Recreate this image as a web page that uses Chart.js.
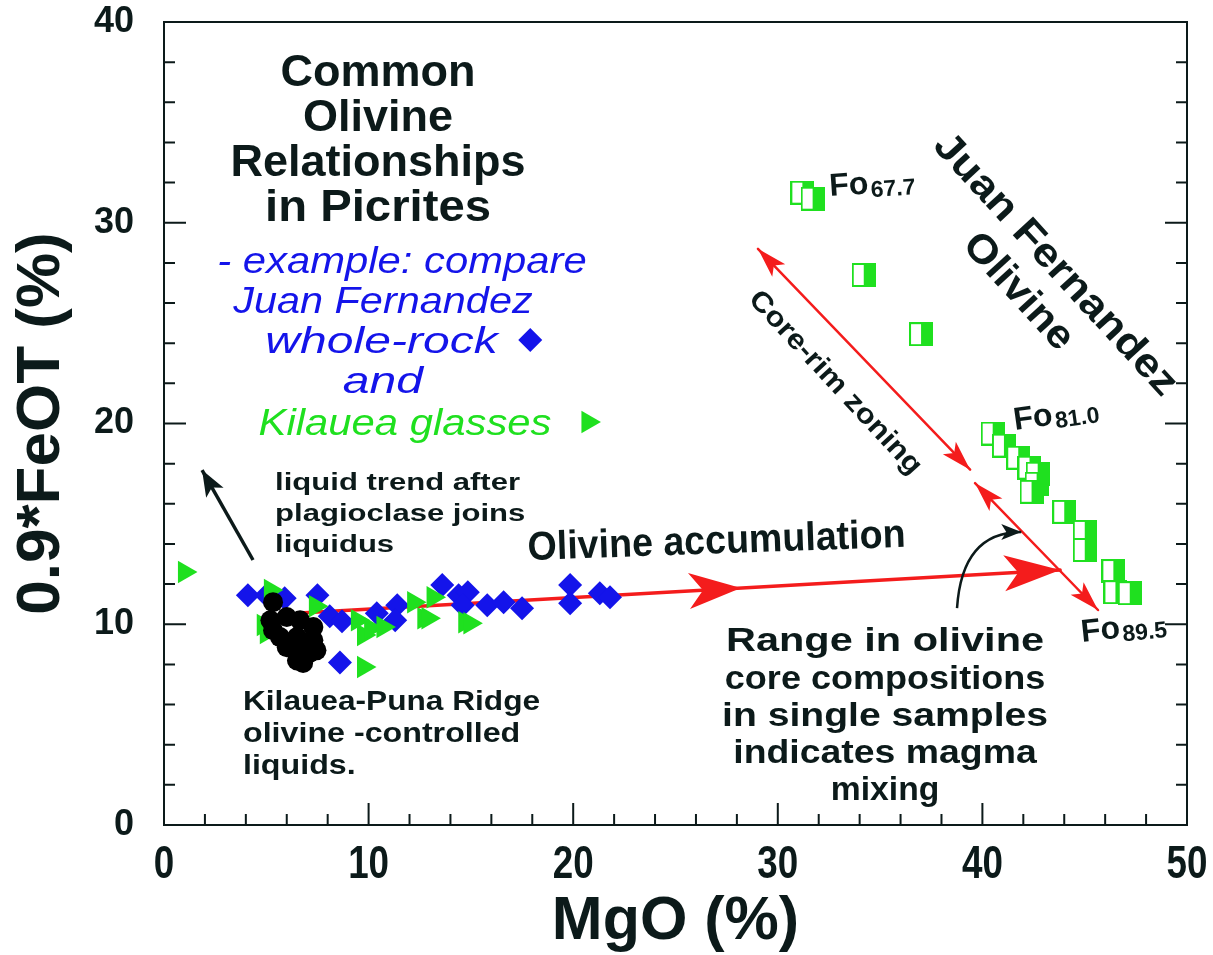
<!DOCTYPE html>
<html>
<head>
<meta charset="utf-8">
<script src="https://cdn.jsdelivr.net/npm/chart.js@4.4.1/dist/chart.umd.min.js"></script>
<style>
  html, body { margin: 0; padding: 0; background: #fff; }
  #box { width: 1213px; height: 955px; }
</style>
</head>
<body>
<div id="box"><canvas id="c" width="1213" height="955"></canvas></div>
<script>
// ---- data (MgO %, 0.9*FeOT %) ----
const wholeRockMgO = [4.1, 5.0, 5.9, 7.5, 8.1, 8.7, 8.6, 10.4, 11.4, 11.3, 13.6, 14.4, 14.85, 14.6, 15.8, 16.6, 17.5, 19.85, 19.85, 21.3, 21.8];
const wholeRockFeO = [11.45, 11.45, 11.3, 11.45, 10.4, 10.15, 8.1, 10.55, 10.95, 10.2, 11.95, 11.45, 11.6, 10.95, 10.95, 11.1, 10.8, 11.95, 11.05, 11.55, 11.35];

const glassMgO = [1.0, 5.2, 4.85, 5.0, 7.4, 9.45, 9.75, 9.75, 10.1, 10.7, 12.2, 12.7, 12.9, 13.15, 14.7, 14.95];
const glassFeO = [12.6, 11.7, 9.96, 9.56, 10.9, 10.2, 9.46, 7.87, 9.8, 9.86, 11.1, 10.3, 10.3, 11.35, 10.1, 10.05];

const punaMgO = [5.33, 5.2, 6.0, 6.65, 7.3, 5.67, 6.5, 7.3, 6.0, 6.8, 7.1, 6.5, 6.8, 7.45, 5.33];
const punaFeO = [11.1, 10.2, 10.36, 10.2, 9.86, 9.36, 9.36, 9.2, 8.86, 8.7, 8.56, 8.2, 8.07, 8.7, 9.7];

const olivineMgO = [31.2, 31.7, 34.2, 37.0, 40.5, 41.05, 41.75, 42.3, 42.7, 42.65, 42.4, 44.0, 45.0, 45.0, 46.4, 46.5, 47.2];
const olivineFeO = [31.5, 31.2, 27.4, 24.45, 19.5, 18.9, 18.3, 17.8, 17.5, 17.0, 16.6, 15.6, 14.6, 13.7, 12.65, 11.6, 11.55];

// arrows, in data units [x, y]
const accumArrow = [[6.65, 10.56], [43.8, 12.7]];
const coreRimArrow = [[29.03, 28.7], [39.4, 17.7]];
const mixArrow = [[39.64, 17.03], [45.65, 10.71]];
const plagArrow = [[4.35, 13.2], [1.86, 17.68]];
const curveArrow = [[38.76, 10.8], [39.0, 14.6], [41.9, 14.6]]; // start, control, end

const ink = '#0c1a1a';
const blue = '#1414ea';
const green = '#1fe01f';
const red = '#f41c1c';
const FONT = '"Liberation Sans", Arial, sans-serif';

function pts(xs, ys) { return xs.map((x, i) => ({ x: x, y: ys[i] })); }

// half filled square marker for the olivine analyses
function halfSquare(s) {
  const c = document.createElement('canvas');
  c.width = s; c.height = s;
  const g = c.getContext('2d');
  g.fillStyle = '#fff'; g.fillRect(0, 0, s, s);
  g.fillStyle = green; g.fillRect(s / 2, 0, s / 2, s);
  g.strokeStyle = green; g.lineWidth = 2; g.strokeRect(1, 1, s - 2, s - 2);
  return c;
}

const notes = [
  { t: 'Common', x: 10.46, y: 36.81, size: 45, sx: 1, align: 'center' },
  { t: 'Olivine', x: 10.46, y: 34.57, size: 45, sx: 1, align: 'center' },
  { t: 'Relationships', x: 10.46, y: 32.33, size: 45, sx: 1, align: 'center' },
  { t: 'in Picrites', x: 10.46, y: 30.09, size: 45, sx: 1.05, align: 'center' },
  { t: '- example: compare', x: 11.63, y: 27.5, size: 37, sx: 1.13, align: 'center', italic: true, color: blue },
  { t: 'Juan Fernandez', x: 10.7, y: 25.5, size: 37, sx: 1.12, align: 'center', italic: true, color: blue },
  { t: 'whole-rock', x: 10.63, y: 23.51, size: 37, sx: 1.3, align: 'center', italic: true, color: blue },
  { t: 'and', x: 10.7, y: 21.52, size: 37, sx: 1.3, align: 'center', italic: true, color: blue },
  { t: 'Kilauea glasses', x: 11.78, y: 19.43, size: 37, sx: 1.13, align: 'center', italic: true, color: green },
  { t: 'liquid trend after', x: 5.43, y: 16.69, size: 23, sx: 1.35 },
  { t: 'plagioclase joins', x: 5.43, y: 15.14, size: 23, sx: 1.35 },
  { t: 'liquidus', x: 5.43, y: 13.6, size: 23, sx: 1.35 },
  { t: 'Olivine accumulation', x: 17.79, y: 13.2, size: 40, sx: 0.94, rot: -2 },
  { t: 'Range in olivine', x: 35.24, y: 8.67, size: 34, sx: 1.22, align: 'center' },
  { t: 'core compositions', x: 35.24, y: 6.77, size: 34, sx: 1.06, align: 'center' },
  { t: 'in single samples', x: 35.24, y: 4.93, size: 34, sx: 1.15, align: 'center' },
  { t: 'indicates magma', x: 35.24, y: 3.09, size: 34, sx: 1.1, align: 'center' },
  { t: 'mixing', x: 35.24, y: 1.25, size: 34, sx: 0.99, align: 'center' },
  { t: 'Kilauea-Puna Ridge', x: 3.86, y: 5.73, size: 28, sx: 1.13 },
  { t: 'olivine -controlled', x: 3.86, y: 4.13, size: 28, sx: 1.15 },
  { t: 'liquids.', x: 3.86, y: 2.54, size: 28, sx: 1.15 },
  { t: 'Juan Fernandez', x: 43.55, y: 27.9, size: 40, sx: 1.12, align: 'center', base: 'middle', rot: 47.5 },
  { t: 'Olivine', x: 41.74, y: 26.55, size: 40, sx: 1.08, align: 'center', base: 'middle', rot: 47.5 },
  { t: 'Core-rim zoning', x: 32.8, y: 22.02, size: 28, sx: 1.12, align: 'center', base: 'middle', rot: 47 }
];
const foNotes = [
  { main: 'Fo', sub: '67.7', x: 32.55, y: 31.33, rot: -4 },
  { main: 'Fo', sub: '81.0', x: 41.59, y: 19.68, rot: -8 },
  { main: 'Fo', sub: '89.5', x: 44.87, y: 9.12, rot: -6 }
];

function head(ctx, x, y, ang, len, half, notch) {
  ctx.save();
  ctx.translate(x, y);
  ctx.rotate(ang);
  ctx.beginPath();
  ctx.moveTo(0, 0);
  ctx.lineTo(-len, -half);
  ctx.lineTo(-len + notch, 0);
  ctx.lineTo(-len, half);
  ctx.closePath();
  ctx.fill();
  ctx.restore();
}

const decor = {
  id: 'decor',
  beforeDatasetsDraw(chart) {
    const ctx = chart.ctx, xs = chart.scales.x, ys = chart.scales.y;
    const P = p => [xs.getPixelForValue(p[0]), ys.getPixelForValue(p[1])];
    ctx.save();
    ctx.strokeStyle = red; ctx.fillStyle = red; ctx.lineCap = 'round';
    // olivine accumulation
    let a = P(accumArrow[0]), b = P(accumArrow[1]);
    let ang = Math.atan2(b[1] - a[1], b[0] - a[0]);
    ctx.lineWidth = 3.5;
    ctx.beginPath(); ctx.moveTo(a[0], a[1]); ctx.lineTo(b[0], b[1]); ctx.stroke();
    const t = 0.58;
    head(ctx, a[0] + (b[0] - a[0]) * t, a[1] + (b[1] - a[1]) * t, ang, 52, 18, 14);
    head(ctx, b[0], b[1], ang, 56, 18, 14);
    // two double headed zoning / mixing arrows
    [coreRimArrow, mixArrow].forEach(arr => {
      const p = P(arr[0]), q = P(arr[1]);
      const g = Math.atan2(q[1] - p[1], q[0] - p[0]);
      ctx.lineWidth = 2.5;
      ctx.beginPath(); ctx.moveTo(p[0], p[1]); ctx.lineTo(q[0], q[1]); ctx.stroke();
      head(ctx, q[0], q[1], g, 30, 9, 7);
      head(ctx, p[0], p[1], g + Math.PI, 30, 9, 7);
    });
    ctx.restore();
  },
  afterDatasetsDraw(chart) {
    const ctx = chart.ctx, xs = chart.scales.x, ys = chart.scales.y;
    const area = chart.chartArea;
    const P = p => [xs.getPixelForValue(p[0]), ys.getPixelForValue(p[1])];
    ctx.save();
    // black arrows
    ctx.strokeStyle = ink; ctx.fillStyle = ink; ctx.lineWidth = 3.5;
    let a = P(plagArrow[0]), b = P(plagArrow[1]);
    ctx.beginPath(); ctx.moveTo(a[0], a[1]); ctx.lineTo(b[0], b[1]); ctx.stroke();
    head(ctx, b[0], b[1], Math.atan2(b[1] - a[1], b[0] - a[0]), 26, 10, 6);
    const c0 = P(curveArrow[0]), c1 = P(curveArrow[1]), c2 = P(curveArrow[2]);
    ctx.lineWidth = 2.5;
    ctx.beginPath(); ctx.moveTo(c0[0], c0[1]); ctx.quadraticCurveTo(c1[0], c1[1], c2[0], c2[1]); ctx.stroke();
    head(ctx, c2[0], c2[1], Math.atan2(c2[1] - c1[1], c2[0] - c1[0]), 20, 8, 5);

    // text notes
    notes.forEach(n => {
      ctx.save();
      ctx.translate(xs.getPixelForValue(n.x), ys.getPixelForValue(n.y));
      if (n.rot) ctx.rotate(n.rot * Math.PI / 180);
      ctx.scale(n.sx || 1, 1);
      ctx.font = (n.italic ? 'italic ' : 'bold ') + n.size + 'px ' + FONT;
      ctx.fillStyle = n.color || ink;
      ctx.textAlign = n.align || 'left';
      ctx.textBaseline = n.base || 'alphabetic';
      ctx.fillText(n.t, 0, 0);
      ctx.restore();
    });
    foNotes.forEach(n => {
      ctx.save();
      ctx.translate(xs.getPixelForValue(n.x), ys.getPixelForValue(n.y));
      ctx.rotate(n.rot * Math.PI / 180);
      ctx.fillStyle = ink;
      ctx.textBaseline = 'alphabetic';
      ctx.font = 'bold 32px ' + FONT;
      ctx.fillText(n.main, 0, 0);
      const w = ctx.measureText(n.main).width;
      ctx.font = 'bold 23px ' + FONT;
      ctx.fillText(n.sub, w + 2, 4);
      ctx.restore();
    });
    // legend glyphs next to the blue / green text
    ctx.fillStyle = blue;
    let g = P([17.9, 24.16]);
    Chart.helpers.drawPoint(ctx, { pointStyle: 'rectRot', radius: 12, rotation: 0, borderWidth: 0 }, g[0], g[1]);
    ctx.fillStyle = green;
    g = P([20.72, 20.07]);
    Chart.helpers.drawPoint(ctx, { pointStyle: 'triangle', radius: 13, rotation: 90, borderWidth: 0 }, g[0], g[1]);

    // x tick labels: tall condensed digits as in the original
    ctx.fillStyle = ink;
    ctx.font = 'bold 46px ' + FONT;
    ctx.textAlign = 'center';
    ctx.textBaseline = 'alphabetic';
    xs.ticks.forEach(tk => {
      if (tk.value % 10 !== 0) return;
      ctx.save();
      ctx.translate(xs.getPixelForValue(tk.value), area.bottom + 53);
      ctx.scale(0.8, 1);
      ctx.fillText(String(tk.value), 0, 0);
      ctx.restore();
    });

    // frame and inward ticks
    ctx.strokeStyle = ink; ctx.lineWidth = 2;
    ctx.strokeRect(area.left, area.top, area.right - area.left, area.bottom - area.top);
    ctx.beginPath();
    xs.ticks.forEach(tk => {
      const x = xs.getPixelForValue(tk.value);
      const len = tk.value % 10 === 0 ? 22 : 11;
      ctx.moveTo(x, area.bottom); ctx.lineTo(x, area.bottom - len);
    });
    ys.ticks.forEach(tk => {
      const y = ys.getPixelForValue(tk.value);
      const len = tk.value % 10 === 0 ? 22 : 11;
      ctx.moveTo(area.left, y); ctx.lineTo(area.left + len, y);
      ctx.moveTo(area.right, y); ctx.lineTo(area.right - len, y);
    });
    ctx.stroke();
    ctx.restore();
  }
};

new Chart(document.getElementById('c'), {
  type: 'scatter',
  data: {
    datasets: [
      { label: 'Kilauea-Puna Ridge', data: pts(punaMgO, punaFeO), pointStyle: 'circle', pointRadius: 10,
        backgroundColor: '#000', borderWidth: 0 },
      { label: 'Kilauea glasses', data: pts(glassMgO, glassFeO), pointStyle: 'triangle', rotation: 90, pointRadius: 13,
        backgroundColor: green, borderWidth: 0 },
      { label: 'Juan Fernandez whole-rock', data: pts(wholeRockMgO, wholeRockFeO), pointStyle: 'rectRot', pointRadius: 12,
        backgroundColor: blue, borderWidth: 0 },
      { label: 'Juan Fernandez olivine', data: pts(olivineMgO, olivineFeO), pointStyle: halfSquare(24), pointRadius: 12,
        backgroundColor: green, borderWidth: 0 }
    ]
  },
  options: {
    responsive: false,
    animation: false,
    devicePixelRatio: 1,
    layout: { padding: { top: 22, right: 26, left: 0, bottom: 0 } },
    plugins: { legend: { display: false }, tooltip: { enabled: false } },
    scales: {
      x: {
        type: 'linear', min: 0, max: 50,
        grid: { display: false, drawTicks: false },
        border: { display: false },
        ticks: {
          stepSize: 2, autoSkip: false, maxRotation: 0, padding: 16, color: 'rgba(0,0,0,0)',
          font: { family: FONT, size: 36, weight: 'bold' },
          callback: v => (v % 10 === 0 ? v : '')
        },
        title: { display: true, text: 'MgO (%)', color: ink, padding: { top: 0, bottom: 2 },
          font: { family: FONT, size: 61, weight: 'bold', lineHeight: 1 } },
        afterFit(s) { s.height = 130; s.paddingLeft = 0; s.paddingRight = 0; }
      },
      y: {
        type: 'linear', min: 0, max: 40,
        grid: { display: false, drawTicks: false },
        border: { display: false },
        ticks: {
          stepSize: 2, autoSkip: false, padding: 30, color: ink,
          font: { family: FONT, size: 36, weight: 'bold' },
          callback: v => (v % 10 === 0 ? v : '')
        },
        title: { display: true, text: '0.9*FeOT (%)', color: ink, padding: { top: 5, bottom: 0 },
          font: { family: FONT, size: 62, weight: 'bold', lineHeight: 1.2 } },
        afterFit(s) { s.width = 164; s.paddingTop = 0; s.paddingBottom = 0; }
      }
    }
  },
  plugins: [decor]
});
</script>
</body>
</html>
